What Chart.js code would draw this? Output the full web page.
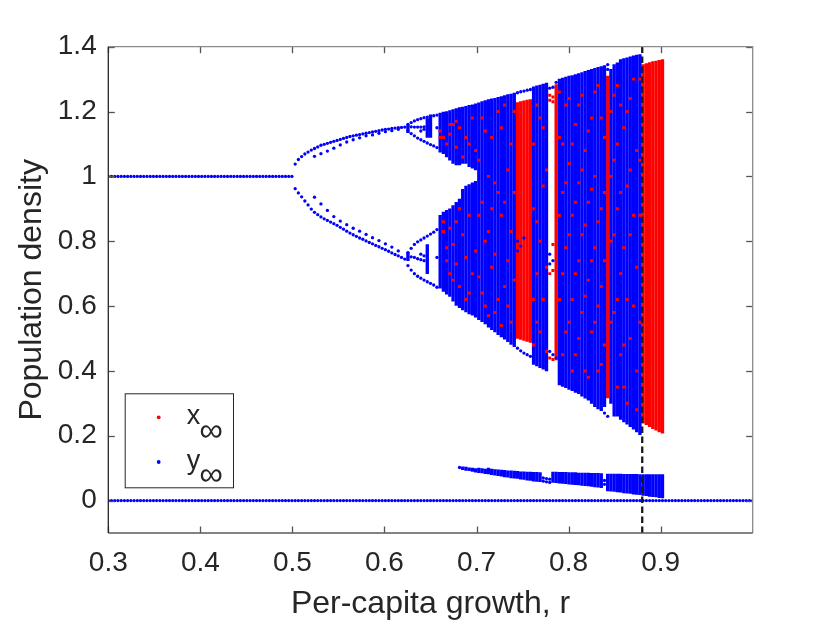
<!DOCTYPE html>
<html><head><meta charset="utf-8">
<script src="https://cdn.jsdelivr.net/npm/chart.js@4.4.1/dist/chart.umd.min.js"></script>
<style>html,body{margin:0;padding:0;background:#fff}</style>
</head><body>
<canvas id="c" width="830" height="623" style="width:830px;height:623px;display:block"></canvas>
<script>
// ---------- data ----------
const rGrid = [
0.3,0.3035,0.307,0.3105,0.314,0.3175,0.321,0.3245,0.328,0.3315,
0.335,0.3385,0.342,0.3455,0.349,0.3525,0.356,0.3595,0.363,0.3665,
0.37,0.3735,0.377,0.3805,0.384,0.3875,0.391,0.3945,0.398,0.4015,
0.405,0.4085,0.412,0.4155,0.419,0.4225,0.426,0.4295,0.433,0.4365,
0.44,0.4435,0.447,0.4505,0.454,0.4575,0.461,0.4645,0.468,0.4715,
0.475,0.4785,0.482,0.4855,0.489,0.4925,0.496,0.4995,0.503,0.5065,
0.51,0.5135,0.517,0.5205,0.524,0.5275,0.531,0.5345,0.538,0.5415,
0.545,0.5485,0.552,0.5555,0.559,0.5625,0.566,0.5695,0.573,0.5765,
0.58,0.5835,0.587,0.5905,0.594,0.5975,0.601,0.6045,0.608,0.6115,
0.615,0.6185,0.622,0.6255,0.629,0.6325,0.636,0.6395,0.643,0.6465,
0.65,0.6535,0.657,0.6605,0.664,0.6675,0.671,0.6745,0.678,0.6815,
0.685,0.6885,0.692,0.6955,0.699,0.7025,0.706,0.7095,0.713,0.7165,
0.72,0.7235,0.727,0.7305,0.734,0.7375,0.741,0.7445,0.748,0.7515,
0.755,0.7585,0.762,0.7655,0.769,0.7725,0.776,0.7795,0.783,0.7865,
0.79,0.7935,0.797,0.8005,0.804,0.8075,0.811,0.8145,0.818,0.8215,
0.825,0.8285,0.832,0.8355,0.839,0.8425,0.846,0.8495,0.853,0.8565,
0.86,0.8635,0.867,0.8705,0.874,0.8775,0.881,0.8845,0.888,0.8915,
0.895,0.8985,0.902,0.9055,0.909,0.9125,0.916,0.9195,0.923,0.9265,
0.93,0.9335,0.937,0.9405,0.944,0.9475,0.951,0.9545,0.958,0.9615,
0.965,0.9685,0.972,0.9755,0.979,0.9825,0.986,0.9895,0.993,0.9965,
1.0];
const extinctY = 0;          // y = 0 branch over the whole grid
const fixedY = 1;            // single fixed point
const fixedEndR = 0.4995;    // last r of the single fixed point

const period2R = [0.503,0.5065,0.51,0.5135,0.517,0.5205,0.524,0.5275,0.531,0.5345,0.538,0.5415,0.545,0.5485,0.552,0.5555,0.559,0.5625,0.566,0.5695,0.573,0.5765,0.58,0.5835,0.587,0.5905,0.594,0.5975,0.601,0.6045,0.608,0.6115,0.615,0.6185,0.622];
const period2UpperY = [1.038,1.052,1.061,1.069,1.075,1.081,1.086,1.091,1.096,1.099,1.102,1.105,1.108,1.111,1.114,1.117,1.120,1.123,1.125,1.127,1.129,1.131,1.133,1.135,1.137,1.139,1.141,1.143,1.145,1.146,1.148,1.149,1.150,1.151,1.152];
const period2LowerY = [0.962,0.949,0.937,0.924,0.912,0.899,0.889,0.882,0.875,0.869,0.864,0.859,0.854,0.849,0.843,0.837,0.831,0.825,0.820,0.815,0.810,0.806,0.801,0.796,0.792,0.787,0.783,0.778,0.774,0.769,0.764,0.759,0.755,0.750,0.745];

const innerR = [0.524,0.531,0.538,0.545,0.552,0.559,0.566,0.573,0.58,0.587,0.594,0.601,0.608,0.615];
const innerUpperY = [1.062,1.070,1.078,1.087,1.097,1.106,1.113,1.119,1.125,1.128,1.133,1.138,1.141,1.145];
const innerLowerY = [0.936,0.915,0.895,0.876,0.862,0.851,0.840,0.831,0.821,0.811,0.802,0.792,0.782,0.770];

const period4R = [0.6255,0.629,0.6325,0.636,0.6395,0.643,0.6465,0.65,0.6535,0.657];
const p4UpperTopY = [1.160,1.166,1.171,1.175,1.178,1.181,1.183,1.185,1.187,1.189];
const p4UpperMidY = [null,1.153,1.152,1.152,1.152,1.153,1.155,1.157,null,null];
const p4UpperLowY = [1.140,1.132,1.125,1.118,1.113,1.108,1.103,1.098,1.094,1.089];
const p4LowerTopY = [0.765,0.778,0.790,0.798,0.804,0.810,0.816,0.822,0.828,0.836];
const p4LowerMidY = [null,0.752,0.750,0.746,0.743,0.740,null,null,null,null];
const p4LowerLowY = [0.725,0.711,0.700,0.692,0.686,0.680,0.675,0.670,0.665,0.658];

const windowBarR  = [0.6255,0.6255,0.6465,0.6465,0.65];
const windowBarLo = [1.135,0.740,1.120,0.700,1.120];
const windowBarHi = [1.160,0.765,1.178,0.790,1.190];

// chaotic columns
const chaosR = [0.6605,0.664,0.6675,0.671,0.6745,0.678,0.6815,0.685,0.6885,0.692,
0.6955,0.699,0.7025,0.706,0.7095,0.713,0.7165,0.72,0.7235,0.727,
0.7305,0.734,0.7375,0.741,0.7445,0.748,0.7515,0.755,0.7585,0.762,
0.7655,0.769,0.7725,0.776,0.7795,0.783,0.7865,0.79,0.7935,0.797,
0.8005,0.804,0.8075,0.811,0.8145,0.818,0.8215,0.825,0.8285,0.832,
0.8355,0.839,0.8425,0.846,0.8495,0.853,0.8565,0.86,0.8635,0.867,
0.8705,0.874,0.8775,0.881,0.8845,0.888,0.8915,0.895,0.8985,0.902];
const yTop = [1.195,1.198,1.200,1.203,1.206,1.209,1.212,1.214,1.216,1.219,
1.221,1.224,1.227,1.231,1.234,1.237,1.239,1.241,1.244,1.246,
1.249,1.252,1.254,1.257,null,null,null,null,null,1.276,
1.279,1.282,1.285,1.288,null,null,null,1.300,1.303,1.306,
1.309,1.311,1.314,1.317,1.320,1.324,1.327,1.330,1.333,1.336,
1.339,1.342,null,1.330,1.345,1.350,1.360,1.363,1.366,1.369,
1.372,1.374,1.376,null,null,null,null,null,null,null];
const yBottom = [0.655,0.645,0.637,0.630,0.615,0.602,0.595,0.588,0.582,0.576,
0.572,0.566,0.558,0.552,0.545,0.535,0.527,0.520,0.512,0.505,
0.498,0.490,0.482,0.475,null,null,null,null,null,0.420,
0.415,0.410,0.405,0.400,null,null,null,0.357,0.352,0.348,
0.343,0.339,0.334,0.330,0.322,0.316,0.310,0.300,0.290,0.283,
0.277,0.290,null,0.300,0.260,0.260,0.250,0.243,0.236,0.228,
0.220,0.212,0.203,null,null,null,null,null,null,null];
const gapLo = [0.880,0.890,0.895,0.900,0.910,0.920,0.930,0.960,0.970,0.975,0.980,0.985];
const gapHi = [1.075,1.070,1.060,1.050,1.040,1.035,1.035,1.040,1.040,1.030,1.025,1.020];
const xTop = [null,null,null,null,null,null,null,null,null,null,
null,null,null,null,null,null,null,null,null,null,
null,null,null,null,1.228,1.231,1.233,1.235,1.237,null,
null,null,null,null,null,null,1.283,null,null,null,
null,null,null,null,null,null,null,null,null,null,
null,null,1.309,null,null,null,null,null,null,null,
null,null,null,1.345,1.348,1.351,1.354,1.356,1.358,1.360];
const xBottom = [null,null,null,null,null,null,null,null,null,null,
null,null,null,null,null,null,null,null,null,null,
null,null,null,null,0.500,0.497,0.494,0.491,0.488,null,
null,null,null,null,null,null,0.434,null,null,null,
null,null,null,null,null,null,null,null,null,null,
null,null,0.317,null,null,null,null,null,null,null,
null,null,null,0.239,0.234,0.228,0.222,0.217,0.212,0.208];
const lowBandLo = [null,null,null,null,null,null,null,0.095,0.093,0.092,
0.090,0.088,0.086,0.085,0.083,0.082,0.080,0.078,0.077,0.075,
0.073,0.072,0.070,0.069,0.068,0.066,0.065,0.063,0.062,0.060,
0.059,0.058,null,null,null,0.056,0.055,0.054,0.053,0.052,
0.051,0.050,0.049,0.048,0.047,0.046,0.045,0.044,0.042,0.041,
0.040,null,0.030,0.029,0.028,0.027,0.026,0.024,0.023,0.022,
0.020,0.019,0.018,0.016,0.015,0.013,0.012,0.011,0.009,0.008];
const lowBandHi = [null,null,null,null,null,null,null,0.104,0.103,0.101,
0.100,0.099,0.100,0.099,0.097,0.100,0.097,0.096,0.095,0.094,
0.093,0.092,0.092,0.091,0.090,0.089,0.089,0.088,0.088,0.087,
0.087,0.086,null,null,null,0.088,0.088,0.087,0.087,0.087,
0.086,0.086,0.086,0.085,0.085,0.085,0.085,0.084,0.084,0.084,
0.083,null,0.082,0.082,0.082,0.082,0.082,0.081,0.081,0.081,
0.081,0.081,0.080,0.080,0.080,0.080,0.080,0.080,0.080,0.080];

const blueDots = [[0.7445,1.258],[0.748,1.261],[0.7515,1.263],[0.755,1.266],[0.7585,1.268],
[0.7445,0.80],[0.748,0.785],[0.7515,0.81],[0.7445,0.77],
[0.7445,0.47],[0.748,0.462],[0.7515,0.455],[0.755,0.45],[0.7585,0.445],
[0.7795,1.272],[0.783,1.275],[0.7865,1.29],[0.7795,0.76],[0.783,0.74],[0.7795,0.73],[0.7795,0.46],[0.783,0.45],[0.7865,0.44],
[0.7725,0.07],[0.7725,0.06],[0.776,0.068],[0.776,0.058],[0.7795,0.066],[0.7795,0.056],[0.839,0.062],[0.839,0.05],
[0.8425,1.345],[0.8425,1.33],[0.839,0.27],[0.8425,0.26],[0.6815,0.102],
[0.6395,0.76],[0.643,0.755],[0.6395,1.14],[0.643,1.145],[0.657,1.15],[0.657,0.75]];

const redSpecks = [[0.6605,1.14],[0.664,1.12],[0.664,0.83],[0.6675,1.10],[0.6675,0.78],[0.671,1.13],[0.671,0.84],[0.671,0.70],
[0.6745,1.16],[0.6745,0.79],[0.678,1.09],[0.678,0.86],[0.678,0.73],[0.6815,1.15],[0.6815,0.66],[0.685,0.82],
[0.6885,1.12],[0.6885,0.75],[0.692,0.88],[0.692,0.64],[0.6955,1.18],[0.699,0.77],[0.7025,1.05],[0.7025,0.69],
[0.706,0.92],[0.7095,0.60],[0.7095,1.14],[0.713,0.83],[0.7165,0.72],[0.72,0.98],[0.72,0.58],[0.7235,1.20],
[0.727,0.88],[0.7305,0.66],[0.734,1.02],[0.734,0.74],[0.7375,0.55],[0.741,0.95],
[0.762,1.10],[0.762,0.62],[0.7655,0.86],[0.769,1.18],[0.769,0.52],[0.7725,0.97],[0.776,0.72],[0.7655,0.70],
[0.7795,1.25],[0.783,1.245],[0.7795,1.235],[0.783,1.23],[0.7795,0.70],[0.783,0.71],[0.783,0.79],[0.7795,0.44],[0.783,0.435],
[0.79,1.12],[0.79,0.62],[0.7935,0.95],[0.7935,0.45],[0.797,1.22],[0.797,0.78],[0.8005,1.04],[0.8005,0.55],
[0.804,0.88],[0.804,0.40],[0.8075,1.16],[0.8075,0.70],[0.811,0.98],[0.811,0.50],[0.8145,1.25],[0.8145,0.82],
[0.818,0.63],[0.818,1.08],[0.8215,0.92],[0.8215,0.38],[0.825,1.18],[0.825,0.74],[0.8285,0.55],[0.8285,1.00],
[0.832,0.86],[0.832,1.28],[0.8355,0.66],[0.8355,0.42],[0.839,1.12],[0.839,0.95],[0.846,0.80],[0.846,1.20],
[0.8495,0.58],[0.8495,1.05],[0.853,1.28],[0.853,0.90],[0.853,0.35],[0.8565,0.70],[0.86,1.15],[0.86,0.48],
[0.8635,0.97],[0.8635,0.30],[0.867,0.82],[0.867,1.24],[0.8705,0.60],[0.874,1.08],[0.874,0.40],[0.8775,0.88],[0.8775,1.30],
[0.6605,1.12],[0.664,0.86],[0.6675,0.74],[0.671,1.16],[0.6745,0.68],[0.678,1.17],[0.6815,0.90],[0.685,1.06],
[0.6885,0.62],[0.692,1.10],[0.6955,0.70],[0.699,1.08],[0.7025,0.88],[0.706,0.64],[0.706,1.18],[0.7095,0.80],
[0.713,1.00],[0.713,0.57],[0.7165,1.12],[0.7165,0.90],[0.72,0.76],[0.7235,0.62],[0.7235,0.95],[0.727,1.15],
[0.727,0.54],[0.7305,0.92],[0.7305,1.22],[0.734,0.60],[0.7375,0.83],[0.7375,1.10],[0.741,0.68],[0.741,1.20],
[0.762,0.90],[0.762,0.48],[0.7655,1.22],[0.7655,0.55],[0.769,0.80],[0.7725,0.62],[0.7725,1.15],[0.776,1.02],[0.776,0.46],
[0.79,0.88],[0.79,1.26],[0.7935,0.70],[0.7935,1.10],[0.797,0.52],[0.797,0.98],[0.8005,0.82],[0.8005,1.24],
[0.804,0.62],[0.804,1.10],[0.8075,0.45],[0.8075,0.92],[0.811,0.74],[0.811,1.22],[0.8145,0.58],[0.8145,1.02],
[0.818,0.85],[0.818,0.40],[0.8215,1.14],[0.8215,0.68],[0.825,0.52],[0.825,0.96],[0.8285,0.78],[0.8285,1.26],
[0.832,0.60],[0.832,0.40],[0.8355,0.90],[0.8355,1.18],[0.839,0.74],[0.839,0.48],[0.846,0.55],[0.846,1.00],
[0.8495,0.82],[0.8495,1.25],[0.853,0.62],[0.853,1.10],[0.8565,0.95],[0.8565,0.45],[0.8565,1.22],[0.86,0.78],
[0.86,0.35],[0.8635,1.20],[0.8635,0.62],[0.867,1.02],[0.867,0.50],[0.8705,0.88],[0.8705,1.30],[0.874,0.72],
[0.874,0.28],[0.8775,1.05],[0.8775,0.55]];

const thresholdR = 0.88;
const xTicks = [0.3,0.4,0.5,0.6,0.7,0.8,0.9];
const yTicks = [0,0.2,0.4,0.6,0.8,1,1.2,1.4];
const legendLabels = ['x','y'];
const legendSub = '\u221E';
const xTitle = 'Per-capita growth, r';
const yTitle = 'Population density';

// ---------- build datasets ----------
const BLUE = '#0000ff', RED = '#ff0000', INK = '#262626';
const FONT = "'Liberation Sans', Arial, Helvetica, sans-serif";
const pts = (rs, ys) => rs.map((r, i) => ({x: r, y: ys[i]})).filter(p => p.y !== null);

const blueBranchPts = [].concat(
  rGrid.map(r => ({x: r, y: extinctY})),
  rGrid.filter(r => r <= fixedEndR).map(r => ({x: r, y: fixedY})),
  pts(period2R, period2UpperY), pts(period2R, period2LowerY),
  pts(innerR, innerUpperY), pts(innerR, innerLowerY),
  pts(period4R, p4UpperTopY), pts(period4R, p4UpperMidY), pts(period4R, p4UpperLowY),
  pts(period4R, p4LowerTopY), pts(period4R, p4LowerMidY), pts(period4R, p4LowerLowY),
  blueDots.map(d => ({x: d[0], y: d[1]}))
);

const blueBars = [];
windowBarR.forEach((r, i) => blueBars.push({x: r, y: [windowBarLo[i], windowBarHi[i]]}));
chaosR.forEach((r, i) => {
  if (yTop[i] !== null) {
    if (i < gapLo.length) {
      blueBars.push({x: r, y: [yBottom[i], gapLo[i]]});
      blueBars.push({x: r, y: [gapHi[i], yTop[i]]});
    } else {
      blueBars.push({x: r, y: [yBottom[i], yTop[i]]});
    }
  }
  if (lowBandLo[i] !== null) blueBars.push({x: r, y: [lowBandLo[i], lowBandHi[i]]});
});
const redBars = [];
chaosR.forEach((r, i) => { if (xTop[i] !== null) redBars.push({x: r, y: [xBottom[i], xTop[i]]}); });

const frame = {
  id: 'frame',
  afterDraw(chart) {
    const ctx = chart.ctx, a = chart.chartArea, xs = chart.scales.x, ys = chart.scales.y;
    const tl = 6.5;
    ctx.save();
    ctx.lineWidth = 1.3;
    ctx.strokeStyle = '#555';
    xTicks.forEach(v => {
      const px = Math.round(xs.getPixelForValue(v)) + 0.5;
      ctx.beginPath(); ctx.moveTo(px, a.bottom); ctx.lineTo(px, a.bottom - tl); ctx.stroke();
      ctx.beginPath(); ctx.moveTo(px, a.top); ctx.lineTo(px, a.top + tl); ctx.stroke();
    });
    yTicks.forEach(v => {
      const py = Math.round(ys.getPixelForValue(v)) + 0.5;
      ctx.beginPath(); ctx.moveTo(a.left, py); ctx.lineTo(a.left + tl, py); ctx.stroke();
      ctx.beginPath(); ctx.moveTo(a.right, py); ctx.lineTo(a.right - tl, py); ctx.stroke();
    });
    ctx.strokeStyle = '#8a8a8a';
    ctx.beginPath(); ctx.moveTo(a.left, a.top); ctx.lineTo(a.right, a.top); ctx.lineTo(a.right, a.bottom); ctx.stroke();
    ctx.strokeStyle = '#5a5a5a';
    ctx.beginPath(); ctx.moveTo(a.left, a.bottom); ctx.lineTo(a.right, a.bottom); ctx.stroke();
    ctx.strokeStyle = INK;
    ctx.beginPath(); ctx.moveTo(a.left, a.top); ctx.lineTo(a.left, a.bottom); ctx.stroke();

    // legend
    const bx = a.left + 16.4, by = a.bottom - 139.7, bw = 108.3, bh = 94;
    ctx.fillStyle = '#fff'; ctx.fillRect(bx, by, bw, bh);
    ctx.strokeStyle = INK; ctx.lineWidth = 1; ctx.strokeRect(bx + 0.5, by + 0.5, bw, bh);
    const colors = [RED, BLUE];
    const rows = [{dot: 24, base: 30.7, sub: 48.0}, {dot: 68.7, base: 75.7, sub: 92.0}];
    rows.forEach((rw, i) => {
      ctx.fillStyle = colors[i];
      ctx.beginPath(); ctx.arc(bx + 34, by + rw.dot, 1.9, 0, Math.PI * 2); ctx.fill();
      ctx.fillStyle = INK; ctx.textBaseline = 'alphabetic'; ctx.textAlign = 'left';
      ctx.font = '27px ' + FONT; ctx.fillText(legendLabels[i], bx + 62, by + rw.base);
      ctx.font = '33px ' + FONT; ctx.fillText(legendSub, bx + 74.5, by + rw.sub);
    });
    ctx.restore();
  }
};

new Chart(document.getElementById('c'), {
  type: 'scatter',
  data: {
    datasets: [
      {type: 'line', label: 'threshold', data: [{x: thresholdR, y: -0.1}, {x: thresholdR, y: 1.4}],
       borderColor: '#1a1a1a', borderWidth: 2.3, borderDash: [6.5, 3.5], pointRadius: 0, fill: false, order: 0},
      {type: 'scatter', label: 'x specks', data: redSpecks.map(d => ({x: d[0], y: d[1]})),
       pointBackgroundColor: RED, pointBorderWidth: 0, pointStyle: 'rect', pointRadius: 2.1, order: 1},
      {type: 'scatter', label: 'y points', data: blueBranchPts,
       pointBackgroundColor: BLUE, pointBorderWidth: 0, pointRadius: 1.65, order: 2},
      {type: 'bar', label: 'y bands', data: blueBars, backgroundColor: BLUE, borderWidth: 0,
       barThickness: 2.7, grouped: false, order: 3},
      {type: 'bar', label: 'x bands', data: redBars, backgroundColor: RED, borderWidth: 0,
       barThickness: 2.7, grouped: false, order: 4}
    ]
  },
  options: {
    responsive: false, animation: false, events: [],
    layout: {padding: {left: 0, top: 46.7, right: 77.3, bottom: 0}},
    plugins: {legend: {display: false}, tooltip: {enabled: false}},
    scales: {
      x: {
        type: 'linear', min: 0.3, max: 1.0, offset: false,
        grid: {display: false, drawTicks: false}, border: {display: false},
        afterBuildTicks: s => { s.ticks = xTicks.map(v => ({value: v})); },
        afterFit: s => { s.height = 90; },
        ticks: {font: {family: FONT, size: 28}, color: INK, padding: 13.5, maxRotation: 0, autoSkip: false,
                callback: v => (Math.round(v * 10) / 10).toFixed(1)},
        title: {display: true, text: xTitle, font: {family: FONT, size: 32, lineHeight: 1.2}, color: INK, padding: {top: 0, bottom: 0}}
      },
      y: {
        type: 'linear', min: -0.1, max: 1.4,
        grid: {display: false, drawTicks: false}, border: {display: false},
        afterBuildTicks: s => { s.ticks = yTicks.map(v => ({value: v})); },
        afterFit: s => { s.width = 108.3; },
        ticks: {font: {family: FONT, size: 28}, color: INK, padding: 11.6, autoSkip: false,
                callback: v => String(Math.round(v * 10) / 10)},
        title: {display: true, text: yTitle, font: {family: FONT, size: 32, lineHeight: 1.2}, color: INK, padding: {top: 13, bottom: 0}}
      }
    }
  },
  plugins: [frame]
});
</script>
</body></html>
